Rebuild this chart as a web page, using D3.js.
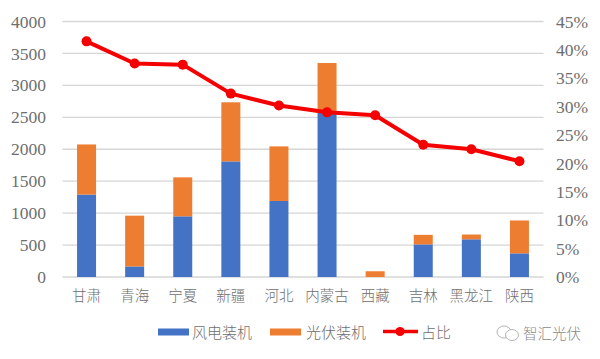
<!DOCTYPE html>
<html>
<head>
<meta charset="utf-8">
<script src="https://cdn.jsdelivr.net/npm/d3@7/dist/d3.min.js"></script>
<style>
  html, body { margin: 0; padding: 0; background: #fff; }
  text { fill: #6e6e6e; }
  .num { font-family: "Liberation Serif", serif; }
  .cjk { font-family: "Noto Sans CJK SC", sans-serif; font-weight: 300; }
</style>
</head>
<body>
<div id="chart"></div>
<script>
var provinces = ['甘肃', '青海', '宁夏', '新疆', '河北', '内蒙古', '西藏', '吉林', '黑龙江', '陕西'];
var wind = [1290, 165, 950, 1810, 1190, 2600, 0, 510, 590, 370];
var solar = [785, 795, 610, 925, 855, 750, 90, 150, 75, 515];
var share = [41.5, 37.6, 37.4, 32.3, 30.2, 29, 28.5, 23.3, 22.5, 20.4];
var leftTicks = [0, 500, 1000, 1500, 2000, 2500, 3000, 3500, 4000];
var rightTicks = [0, 5, 10, 15, 20, 25, 30, 35, 40, 45];

var blue = '#4472c4', orange = '#ed7d31', red = '#f50000';

var svg = d3.select('#chart')
    .append('svg')
    .attr('width', 600)
    .attr('height', 359)
    .style('display', 'block');

var x = d3.scaleBand().domain(provinces).range([62.5, 543.5]);
var y = d3.scaleLinear().domain([0, 4000]).range([277, 21.5]);
var y2 = d3.scaleLinear().domain([0, 45]).range([277, 21.5]);
var barWidth = 19;

// gridlines
svg.append('g')
    .selectAll('line')
    .data(leftTicks)
    .enter()
    .append('line')
    .attr('x1', 62.5)
    .attr('x2', 543.5)
    .attr('y1', function(d) { return y(d); })
    .attr('y2', function(d) { return y(d); })
    .attr('stroke', '#d6d6d6')
    .attr('stroke-width', 1.3);

// left axis
var leftAxis = svg.append('g')
    .attr('transform', 'translate(46,0)')
    .call(d3.axisLeft(y).tickValues(leftTicks).tickSize(0).tickPadding(0).tickFormat(d3.format('d')));
leftAxis.select('.domain').remove();
leftAxis.selectAll('text')
    .attr('class', 'num')
    .style('font-family', '"Liberation Serif", serif')
    .style('font-size', '17.5px');

// right axis
var rightAxis = svg.append('g')
    .attr('transform', 'translate(556,0)')
    .call(d3.axisRight(y2).tickValues(rightTicks).tickSize(0).tickPadding(0).tickFormat(function(d) { return d + '%'; }));
rightAxis.select('.domain').remove();
rightAxis.selectAll('text')
    .attr('class', 'num')
    .style('font-family', '"Liberation Serif", serif')
    .style('font-size', '17.5px');

// category labels
var bottomAxis = svg.append('g')
    .attr('transform', 'translate(0,289)')
    .call(d3.axisBottom(x).tickSize(0).tickPadding(0));
bottomAxis.select('.domain').remove();
bottomAxis.selectAll('text')
    .attr('class', 'cjk')
    .attr('dy', '0.85em')
    .style('font-size', '14.5px');

// stacked bars
svg.append('g')
    .selectAll('rect')
    .data(provinces)
    .enter()
    .append('rect')
    .attr('x', function(d) { return x(d) + x.bandwidth() / 2 - barWidth / 2; })
    .attr('y', function(d, i) { return y(wind[i]); })
    .attr('width', barWidth)
    .attr('height', function(d, i) { return y(0) - y(wind[i]); })
    .attr('fill', blue);

svg.append('g')
    .selectAll('rect')
    .data(provinces)
    .enter()
    .append('rect')
    .attr('x', function(d) { return x(d) + x.bandwidth() / 2 - barWidth / 2; })
    .attr('y', function(d, i) { return y(wind[i] + solar[i]); })
    .attr('width', barWidth)
    .attr('height', function(d, i) { return y(wind[i]) - y(wind[i] + solar[i]); })
    .attr('fill', orange);

// line with markers
var line = d3.line()
    .x(function(d, i) { return x(provinces[i]) + x.bandwidth() / 2; })
    .y(function(d) { return y2(d); });

svg.append('path')
    .attr('d', line(share))
    .attr('fill', 'none')
    .attr('stroke', red)
    .attr('stroke-width', 4)
    .attr('stroke-linejoin', 'round');

svg.append('g')
    .selectAll('circle')
    .data(share)
    .enter()
    .append('circle')
    .attr('cx', function(d, i) { return x(provinces[i]) + x.bandwidth() / 2; })
    .attr('cy', function(d) { return y2(d); })
    .attr('r', 5)
    .attr('fill', red);

// legend
var legend = svg.append('g');
legend.append('rect').attr('x', 158).attr('y', 328.5).attr('width', 31).attr('height', 7).attr('fill', blue);
legend.append('text').attr('class', 'cjk').attr('x', 192).attr('y', 338).style('font-size', '15px').text('风电装机');
legend.append('rect').attr('x', 270).attr('y', 328.5).attr('width', 31).attr('height', 7).attr('fill', orange);
legend.append('text').attr('class', 'cjk').attr('x', 306).attr('y', 338).style('font-size', '15px').text('光伏装机');
legend.append('line').attr('x1', 383).attr('x2', 418).attr('y1', 331.5).attr('y2', 331.5).attr('stroke', red).attr('stroke-width', 3.6);
legend.append('circle').attr('cx', 400).attr('cy', 331.5).attr('r', 4.6).attr('fill', red);
legend.append('text').attr('class', 'cjk').attr('x', 421).attr('y', 338).style('font-size', '15px').text('占比');

// watermark
var mark = svg.append('g').attr('fill', '#fff').attr('stroke', '#b5b5b5').attr('stroke-width', 1);
mark.append('ellipse').attr('cx', 504).attr('cy', 332).attr('rx', 7).attr('ry', 6);
mark.append('ellipse').attr('cx', 512).attr('cy', 335).attr('rx', 6.5).attr('ry', 5.5);
svg.append('text')
    .attr('class', 'cjk')
    .attr('x', 523)
    .attr('y', 339)
    .style('font-size', '14.5px')
    .style('fill', '#8a8a8a')
    .text('智汇光伏');
</script>
</body>
</html>
